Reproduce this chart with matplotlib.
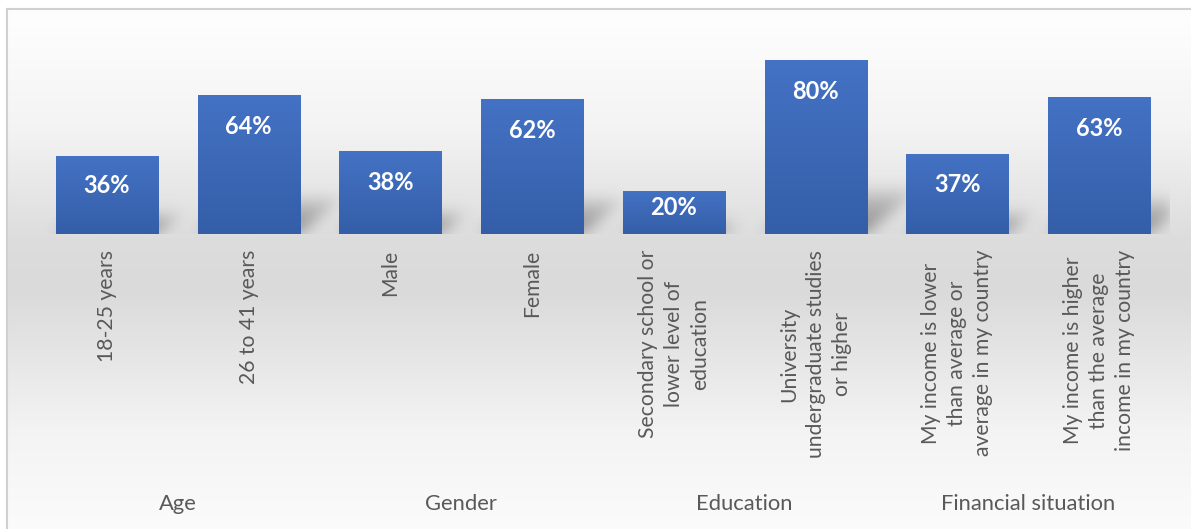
import numpy as np
import matplotlib as mpl
import matplotlib.pyplot as plt

# Data
categories = ['18-25 years', '26 to 41 years', 'Male', 'Female',
              'Secondary school or\nlower level of\neducation',
              'University\nundergraduate studies\nor higher',
              'My income is lower\nthan average or\naverage in my country',
              'My income is higher\nthan the average\nincome in my country']
values = [36, 64, 38, 62, 20, 80, 37, 63]
groups = ['Age', 'Gender', 'Education', 'Financial situation']
group_size = 2

W, H = 1191, 529
mpl.rcParams['font.family'] = ['Lato', 'DejaVu Sans']
text_color = '#595959'

fig = plt.figure(figsize=(W / 100, H / 100), dpi=100, facecolor='white')

# Background gradient (white -> gray at the floor -> white)
bg = fig.add_axes([0, 0, 1, 1], zorder=0)
bg.set_xlim(0, W)
bg.set_ylim(H, 0)
bg.axis('off')
ys = np.arange(H)
stops_y = [9, 120, 234, 285, 430, 529]
stops_v = [0.995, 0.955, 0.865, 0.855, 0.955, 0.985]
shade = np.interp(ys, stops_y, stops_v)
grad = np.repeat(shade[:, None], 2, axis=1)
bg.imshow(np.dstack([grad, grad, grad]), extent=(7, W, H, 9), aspect='auto', interpolation='bilinear')
# chart border (top and left edges visible)
bg.plot([7, W], [9, 9], color='#d0d0d0', lw=1.5)
bg.plot([7, 7], [9, H], color='#d0d0d0', lw=1.5)

# Main axes
base_px = 234
px_per_pct = 2.175
ymax = 90
ax_h = ymax * px_per_pct
left_px, right_px = 36, 1170
ax = fig.add_axes([left_px / W, (H - base_px) / H, (right_px - left_px) / W, ax_h / H], zorder=1)
ax.patch.set_alpha(0)
n = len(values)
ax.axis('off')

x = np.arange(n)
bar_w = 0.72

# Perspective shadows behind the bars
px_per_x = (right_px - left_px) / n
sh_top = 30  # percent
gx = np.linspace(-0.5, n - 0.5, right_px - left_px)
gy = np.linspace(-3, sh_top, int((sh_top + 3) * px_per_pct))
X, Y = np.meshgrid(gx, gy)
mask = np.zeros_like(X)
a_sh, b_sh = 0.32, 0.27
for xi, v in zip(x, values):
    ysrc = Y / b_sh
    xsrc = X - a_sh * ysrc * px_per_pct / px_per_x
    inside = (ysrc >= 0) & (ysrc <= v) & (xsrc >= xi - bar_w / 2) & (xsrc <= xi + bar_w / 2)
    fade = np.clip(1 - ysrc / v, 0, 1) ** 0.6
    mask = np.maximum(mask, np.where(inside, fade, 0.0))
# blur
k = np.exp(-0.5 * (np.arange(-20, 21) / 7.0) ** 2)
k /= k.sum()
mask = np.apply_along_axis(lambda r: np.convolve(r, k, mode='same'), 1, mask)
mask = np.apply_along_axis(lambda c: np.convolve(c, k, mode='same'), 0, mask)
rgba = np.zeros(mask.shape + (4,))
rgba[..., :3] = 0.33
rgba[..., 3] = np.clip(mask * 0.6, 0, 1)
ax.imshow(rgba, extent=(-0.5, n - 0.5, -3, sh_top), origin='lower', aspect='auto', zorder=1)

# Bars with vertical gradient
top_c = np.array([68, 114, 196]) / 255
bot_c = np.array([52, 94, 168]) / 255
bars = ax.bar(x, values, width=bar_w, color=top_c, zorder=2, linewidth=0)
for b, v in zip(bars, values):
    t = np.linspace(0, 1, 64)[:, None]
    col = bot_c + (top_c - bot_c) * t
    img = col[:, None, :]
    im = ax.imshow(img, extent=(b.get_x(), b.get_x() + b.get_width(), 0, v), origin='lower',
                   aspect='auto', zorder=3, interpolation='bilinear')
    im.set_clip_path(b)
    off = min(22.5, v * px_per_pct * 0.38 * 0.72)
    ax.annotate(f'{v}%', xy=(b.get_x() + b.get_width() / 2, v), xytext=(0, -off),
                textcoords='offset points', ha='center', va='center', color='white',
                fontsize=17, fontweight='bold', zorder=4)
ax.set_xlim(-0.5, n - 0.5)
ax.set_ylim(0, ymax)

# Category labels (rotated)
for xi, lab in zip(x, categories):
    ax.annotate(lab, xy=(xi, 0), xycoords='data', xytext=(0, -11.5), textcoords='offset points',
                rotation=90, ha='center', va='top', multialignment='center',
                fontsize=15.2, color=text_color, linespacing=1.38, annotation_clip=False)

# Group labels
for gi, g in enumerate(groups):
    cx = gi * group_size + (group_size - 1) / 2
    ax.annotate(g, xy=(cx, 25 / H), xycoords=('data', 'figure fraction'),
                ha='center', va='center', fontsize=15.8, color=text_color, annotation_clip=False)

fig.savefig('out.png', dpi=100, facecolor='white')
